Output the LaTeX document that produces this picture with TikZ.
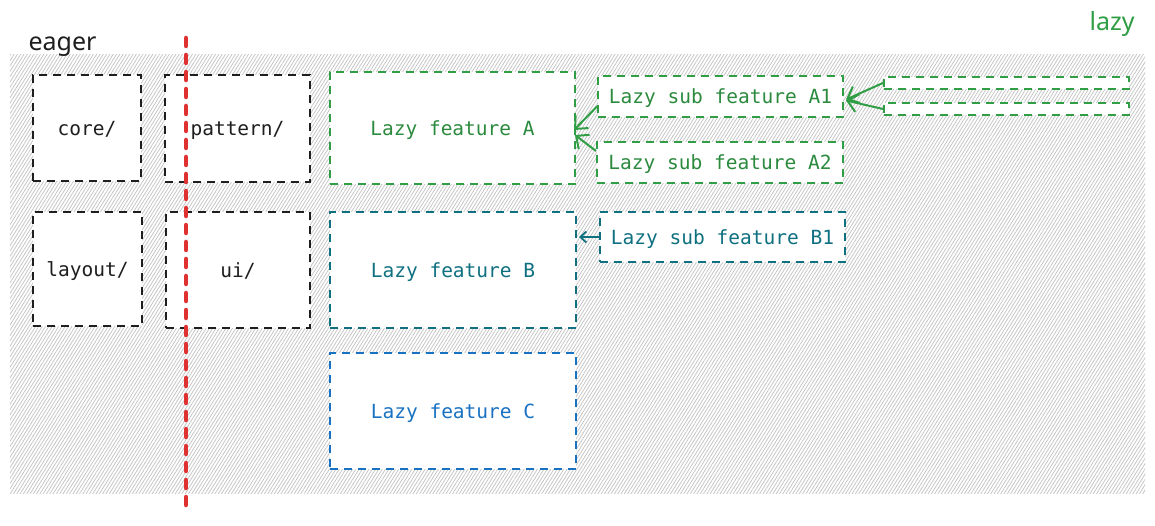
\documentclass[tikz,border=0pt]{standalone}
\usepackage{fontspec}
\setmainfont{Noto Sans}
\setmonofont{DejaVu Sans Mono}
\usetikzlibrary{arrows.meta,patterns.meta,calc}
\definecolor{cgreen}{HTML}{2F9E44}
\definecolor{cgreentext}{HTML}{2B8A3E}
\definecolor{cteal}{HTML}{0F7080}
\definecolor{cblue}{HTML}{1971C2}
\definecolor{cblack}{HTML}{1E1E1E}
\definecolor{cred}{HTML}{E03131}
\definecolor{hatch}{HTML}{C4C4C4}
\begin{document}
\begin{tikzpicture}[x=1pt,y=-1pt,
  box/.style={draw=cblack, fill=white, line width=2pt, dash pattern=on 8pt off 6pt,
    inner sep=0pt, text depth=0pt, font=\ttfamily\fontsize{19.5}{22}\selectfont, text=cblack},
  gbox/.style={box, draw=cgreen, text=cgreentext},
  tbox/.style={box, draw=cteal, text=cteal},
  bbox/.style={box, draw=cblue, text=cblue},
  arr/.style={line width=2pt, -{Straight Barb[length=10pt,width=18pt,line width=2pt]}},
  hand/.style={font=\fontsize{25}{28}\selectfont}
]
\useasboundingbox (0,0) rectangle (1155,526);
\fill[white] (0,0) rectangle (1155,526);
\fill[pattern={Lines[angle=58,distance=2.8pt,line width=0.75pt]}, pattern color=hatch]
  (10,55) rectangle (1145,493);

\node[hand, text=cblack, anchor=base west] (eager) at (25,51) {eager};
\node[hand, text=cgreen, anchor=base west] (lazy) at (1086,31) {lazy};

\node[box, minimum width=108pt, minimum height=106pt] (core) at (87,128) {core/};
\node[box, minimum width=145pt, minimum height=107pt] (pattern) at (237.5,128.5) {pattern/};
\node[box, minimum width=109pt, minimum height=114pt] (layout) at (87.5,269) {layout/};
\node[box, minimum width=144pt, minimum height=116pt] (ui) at (238,270) {ui/};

\node[gbox, minimum width=245pt, minimum height=112pt] (A) at (452.5,128) {Lazy feature A};
\node[tbox, minimum width=246pt, minimum height=116pt] (B) at (453,270) {Lazy feature B};
\node[bbox, minimum width=246pt, minimum height=116pt] (C) at (453,411) {Lazy feature C};

\node[gbox, minimum width=245pt, minimum height=41pt] (A1) at (720.5,96.5) {Lazy sub feature A1};
\node[gbox, minimum width=246pt, minimum height=41pt] (A2) at (720,162.5) {Lazy sub feature A2};
\node[tbox, minimum width=245pt, minimum height=50pt] (B1) at (722.5,237) {Lazy sub feature B1};
\node[gbox, minimum width=245pt, minimum height=12pt] (S1) at (1006.5,83) {};
\node[gbox, minimum width=245pt, minimum height=12pt] (S2) at (1006.5,109) {};

\draw[arr, cgreen] ([yshift=-10pt]A1.west) -- ([xshift=-2pt,yshift=-2pt]A.east);
\draw[arr, cgreen] ([yshift=-10pt]A2.north west) -- ([xshift=-1pt,yshift=-7pt]A.east);
\draw[arr, cgreen] (S1.west) -- ([xshift=2pt,yshift=-3pt]A1.east);
\draw[arr, cgreen] (S2.west) -- ([xshift=2pt,yshift=-4pt]A1.east);
\draw[line width=1.8pt, cteal, -{Straight Barb[length=6pt,width=11pt,line width=1.8pt]}]
  (B1.west) -- ([xshift=2pt]B1.west -| B.east);

\coordinate (rtop) at (186,38);
\coordinate (rbot) at (186,508);
\draw[cred, line width=4.5pt, line cap=round, dash pattern=on 8pt off 9pt] (rtop) -- (rbot);
\end{tikzpicture}
\end{document}
